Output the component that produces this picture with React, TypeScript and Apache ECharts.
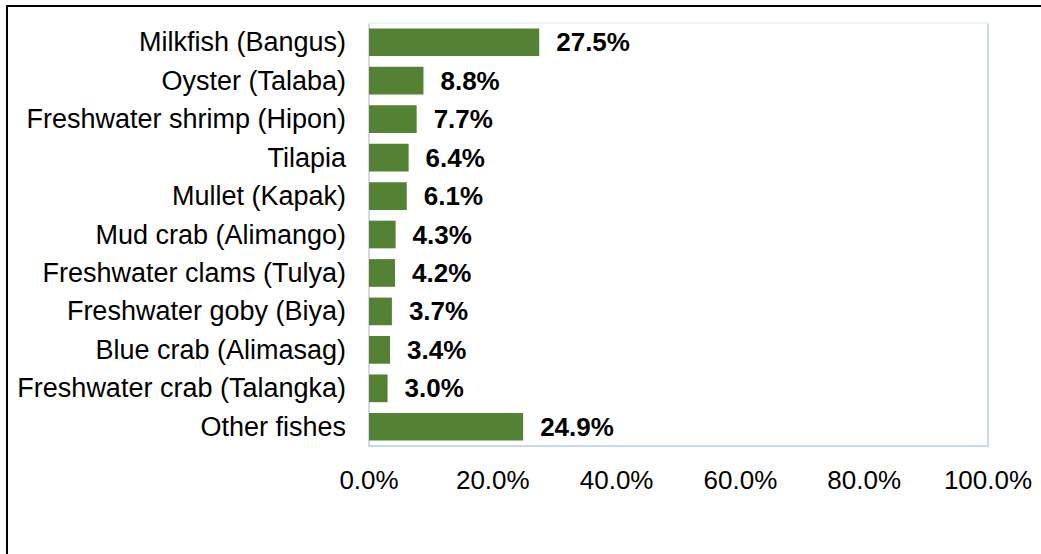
import React, { useEffect, useRef } from "react";
import * as echarts from "echarts";

const categories = [
  "Milkfish (Bangus)",
  "Oyster (Talaba)",
  "Freshwater shrimp (Hipon)",
  "Tilapia",
  "Mullet (Kapak)",
  "Mud crab (Alimango)",
  "Freshwater clams (Tulya)",
  "Freshwater goby (Biya)",
  "Blue crab (Alimasag)",
  "Freshwater crab (Talangka)",
  "Other fishes",
];
const values = [27.5, 8.8, 7.7, 6.4, 6.1, 4.3, 4.2, 3.7, 3.4, 3.0, 24.9];

export default function App() {
  const ref = useRef<HTMLDivElement>(null);
  useEffect(() => {
    if (!ref.current) return;
    const chart = echarts.init(ref.current, null, { renderer: "svg" });
    const font = "'Liberation Sans', Arial, sans-serif";
    chart.setOption({
      animation: false,
      backgroundColor: "#ffffff",
      grid: {
        left: 369,
        top: 23,
        right: 53,
        bottom: 108,
        show: true,
        borderColor: "#c6d9f0",
        borderWidth: 2,
        containLabel: false,
      },
      graphic: [
        {
          type: "rect",
          shape: { x: 7, y: 6, width: 1200, height: 800 },
          style: { fill: "none", stroke: "#000", lineWidth: 2 },
          silent: true,
        },
      ],
      xAxis: [
        {
          type: "value",
          min: 0,
          max: 100,
          interval: 20,
          axisLine: { show: true, lineStyle: { color: "#c6d9f0", width: 2 } },
          axisTick: { show: false },
          splitLine: { show: false },
          axisLabel: {
            color: "#000",
            fontSize: 26,
            fontFamily: font,
            margin: 21,
            formatter: (v: number) => v.toFixed(1) + "%",
          },
        },
        {
          type: "value",
          position: "top",
          min: 0,
          max: 100,
          axisLine: { show: true, lineStyle: { color: "#eef3fa", width: 2 } },
          axisTick: { show: false },
          axisLabel: { show: false },
          splitLine: { show: false },
        },
      ],
      yAxis: {
        type: "category",
        data: categories,
        inverse: true,
        axisLine: { show: true, lineStyle: { color: "#d9d9d9", width: 2 } },
        axisTick: { show: false },
        axisLabel: {
          color: "#000",
          fontSize: 27,
          fontFamily: font,
          margin: 23,
        },
      },
      series: [
        {
          type: "bar",
          data: values,
          barCategoryGap: "28%",
          itemStyle: { color: "#548235" },
          label: {
            show: true,
            position: "right",
            distance: 17,
            color: "#000",
            fontSize: 26,
            fontWeight: "bold",
            fontFamily: font,
            formatter: (p: any) => Number(p.value).toFixed(1) + "%",
          },
        },
      ],
    });
    return () => chart.dispose();
  }, []);
  return (
    <div
      ref={ref}
      style={{ position: "absolute", left: 0, top: 0, width: 1041, height: 554 }}
    />
  );
}
